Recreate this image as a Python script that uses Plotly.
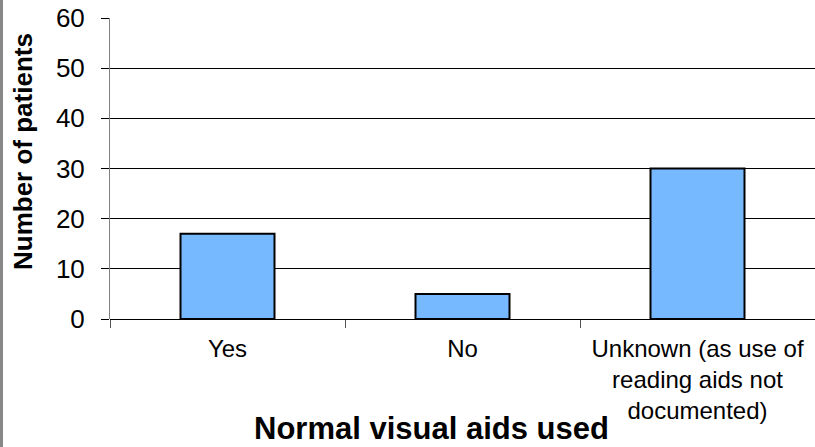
import plotly.graph_objects as go

# Survey counts by whether normal visual aids were used
categories = ["Yes", "No", "Unknown (as use of<br>reading aids not<br>documented)"]
patients = [17, 5, 30]
y_ticks = [0, 10, 20, 30, 40, 50, 60]

W, H = 815, 447
L, R, T, B = 110, 0, 18, 128

fig = go.Figure(
    go.Bar(
        x=categories,
        y=patients,
        width=0.40,
        marker=dict(color="#77B9FF", line=dict(color="#000000", width=2)),
    )
)

font_family = "Liberation Sans, Arial, sans-serif"

fig.update_layout(
    width=W,
    height=H,
    margin=dict(l=L, r=R, t=T, b=B, autoexpand=False),
    paper_bgcolor="white",
    plot_bgcolor="white",
    showlegend=False,
    font=dict(family=font_family, color="#000000"),
    bargap=0.6,
)

fig.update_xaxes(
    type="category",
    range=[-0.5, 2.5],
    tickson="boundaries",
    ticks="outside",
    ticklen=8,
    tickcolor="#555555",
    tickwidth=1,
    ticklabelstandoff=13,
    showline=False,
    showgrid=False,
    tickfont=dict(size=24, family=font_family),
    automargin=False,
)

fig.update_yaxes(
    range=[0, 60],
    tickvals=y_ticks,
    ticks="outside",
    ticklen=8,
    tickcolor="#000000",
    ticklabelstandoff=11,
    showgrid=True,
    gridcolor="#000000",
    gridwidth=1,
    zeroline=True,
    zerolinecolor="#000000",
    zerolinewidth=1,
    showline=True,
    linecolor="#808080",
    linewidth=1,
    tickfont=dict(size=26, family=font_family),
    automargin=False,
)

plot_w = W - L - R
plot_h = H - T - B

# Axis titles placed as annotations in paper coordinates
fig.add_annotation(
    text="<b>Number of patients</b>",
    xref="paper", yref="paper",
    x=(23 - L) / plot_w, y=(H - B - 152) / plot_h,
    textangle=-90, showarrow=False,
    xanchor="center", yanchor="middle",
    font=dict(size=26, family=font_family, color="#000000"),
)
fig.add_annotation(
    text="<b>Normal visual aids used</b>",
    xref="paper", yref="paper",
    x=(431 - L) / plot_w, y=(H - B - 428) / plot_h,
    showarrow=False,
    xanchor="center", yanchor="middle",
    font=dict(size=31, family=font_family, color="#000000"),
)

# Outer chart frame edge on the left
fig.add_shape(
    type="line", xref="paper", yref="paper",
    x0=(1.5 - L) / plot_w, x1=(1.5 - L) / plot_w,
    y0=-(B) / plot_h, y1=(H - B) / plot_h,
    line=dict(color="#888888", width=3),
)

fig.write_html("out.html")
